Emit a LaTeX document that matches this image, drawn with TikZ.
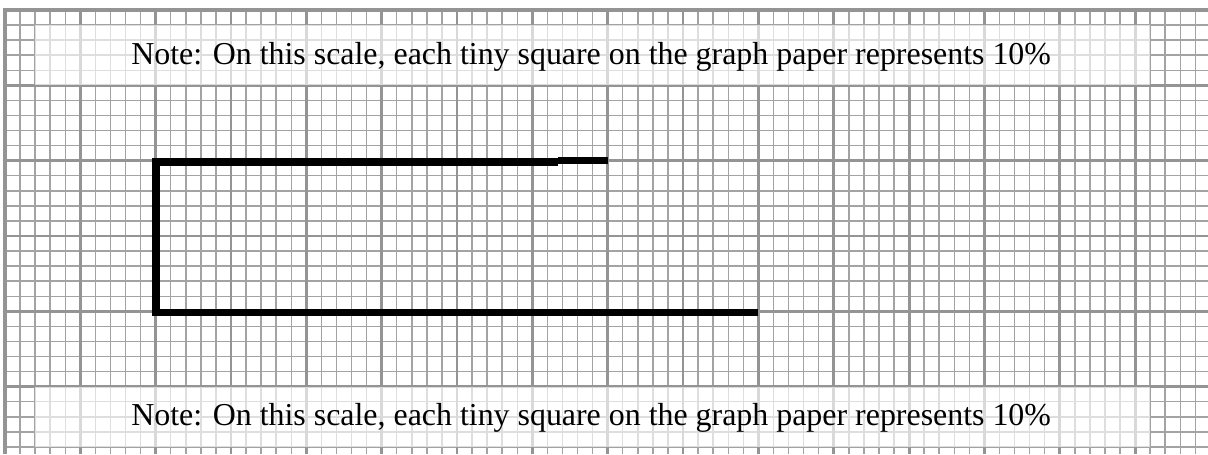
\documentclass[tikz,border=0pt]{standalone}
\usepackage{fontspec}
\setmainfont{Liberation Serif}
\begin{document}
\begin{tikzpicture}[
  x=2mm, y=2mm,
  minorline/.style={black!36, line width=0.55pt},
  majorline/.style={black!42, line width=1.1pt},
  borderline/.style={black!42, line width=1.4pt},
  notebox/.style={fill=white, fill opacity=0.65, inner sep=0pt,
    minimum width=14.8cm, minimum height=8mm},
  notetext/.style={font=\fontsize{12.05}{14}\selectfont},
  outline/.style={black, line width=3pt, line join=miter}
]
  \useasboundingbox (-0.33,0.66) rectangle (79.84,-29.47);
  % graph paper
  \draw[minorline, step=1] (0,-29.47) grid (79.84,0);
  \draw[majorline, step=5] (0,-29.47) grid (79.84,0);
  \draw[borderline] (0,-29.47) -- (0,0) -- (79.84,0);

  \node[notebox] (topbox) at (39,-3) {};
  \node[notebox] (bottombox) at (39,-27) {};
  \node[notetext] (topnote) at ([xshift=-0.2mm, yshift=-0.2mm]topbox.center) {Note: On this scale, each tiny square on the graph paper represents 10\%};
  \node[notetext] (bottomnote) at ([xshift=-0.2mm, yshift=-0.2mm]bottombox.center) {Note: On this scale, each tiny square on the graph paper represents 10\%};

  % the bar
  \draw[outline] (36.7,-10.07) -- (10,-10.07) -- (10,-20.08) -- (50,-20.08);
  \draw[outline] (36.7,-9.99) -- (40,-9.99);
\end{tikzpicture}
\end{document}
